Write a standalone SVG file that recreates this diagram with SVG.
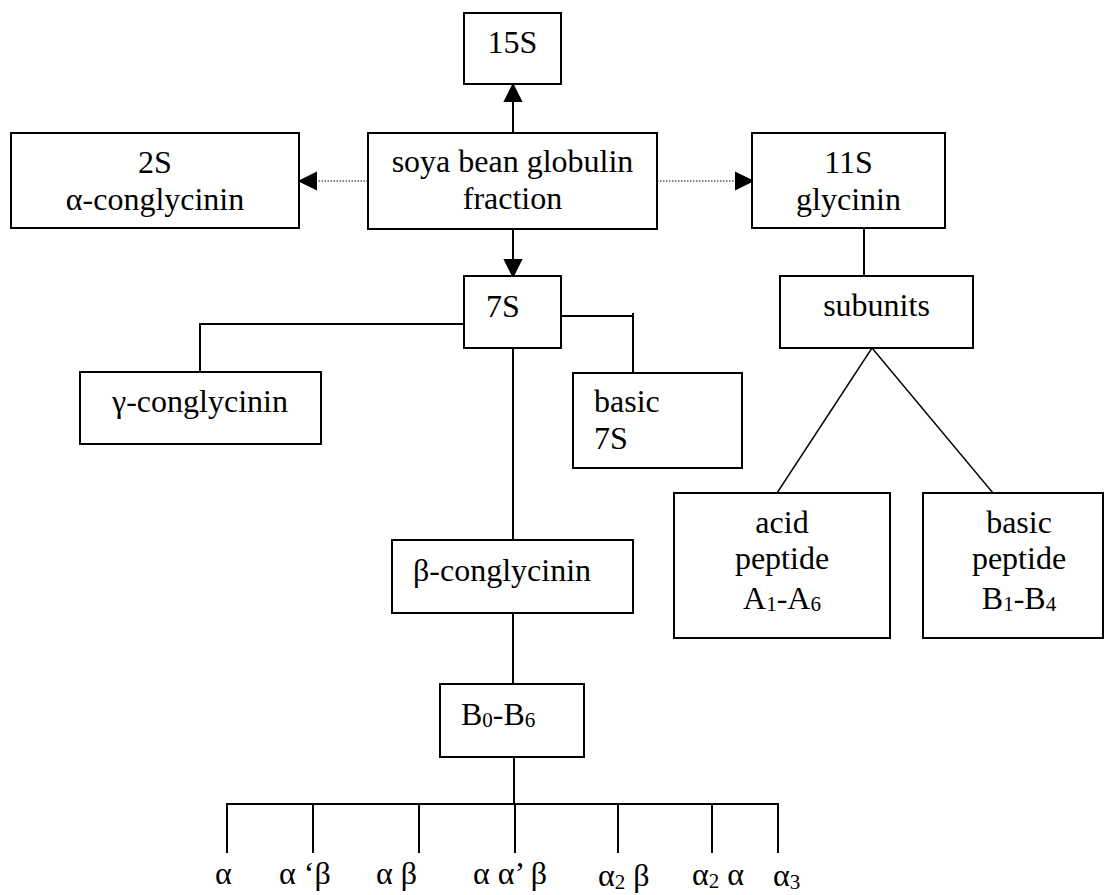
<svg xmlns="http://www.w3.org/2000/svg" width="1104" height="895" viewBox="0 0 1104 895">
<defs>
<path id="ah" d="M0,0 L-16,-8 L-16,8 Z" fill="#000"/>
</defs>
<rect width="1104" height="895" fill="#fff"/>
<g id="connectors" stroke="#000" stroke-width="2" fill="none">
<line x1="513" y1="133" x2="513" y2="99"/>
<use href="#ah" transform="translate(513,85) rotate(-90)"/>
<line x1="513" y1="229" x2="513" y2="262"/>
<use href="#ah" transform="translate(513,276) rotate(90)"/>
<line x1="368" y1="181" x2="314" y2="181" stroke-width="1.2" stroke-dasharray="1.5 1.5"/>
<use href="#ah" transform="translate(300,181) rotate(180)"/>
<line x1="657" y1="181" x2="738" y2="181" stroke-width="1.2" stroke-dasharray="1.5 1.5"/>
<use href="#ah" transform="translate(752,181)"/>
<line x1="864" y1="228" x2="864" y2="276"/>
<line x1="872" y1="348" x2="777" y2="493" stroke-width="1.4"/>
<line x1="872" y1="348" x2="993" y2="493" stroke-width="1.4"/>
<polyline points="464,324 200,324 200,372"/>
<polyline points="561,316 633,316 633,373"/>
<line x1="633" y1="313" x2="633" y2="316"/>
<line x1="513" y1="348" x2="513" y2="540"/>
<line x1="513" y1="613" x2="513" y2="684"/>
<line x1="514" y1="757" x2="514" y2="804"/>
<line x1="226" y1="804" x2="779" y2="804"/>
<line x1="227" y1="804" x2="227" y2="853"/>
<line x1="313" y1="804" x2="313" y2="853"/>
<line x1="419" y1="804" x2="419" y2="853"/>
<line x1="515" y1="804" x2="515" y2="853"/>
<line x1="618" y1="804" x2="618" y2="853"/>
<line x1="712" y1="804" x2="712" y2="853"/>
<line x1="778" y1="804" x2="778" y2="853"/>
</g>
<g id="nodes" font-family="Liberation Serif" font-size="32" fill="#000">
<g id="n15S"><rect x="464" y="13" width="97" height="71" fill="#fff" stroke="#000" stroke-width="2"/><text text-anchor="middle" x="512.5" y="53">15S</text></g>
<g id="soya"><rect x="368" y="133" width="289" height="96" fill="#fff" stroke="#000" stroke-width="2"/><text text-anchor="middle" x="512.5" y="172">soya bean globulin</text><text text-anchor="middle" x="512.5" y="209">fraction</text></g>
<g id="n2S"><rect x="11" y="133" width="288" height="95" fill="#fff" stroke="#000" stroke-width="2"/><text text-anchor="middle" x="155" y="173">2S</text><text text-anchor="middle" x="155" y="210">α-conglycinin</text></g>
<g id="n11S"><rect x="752" y="133" width="193" height="95" fill="#fff" stroke="#000" stroke-width="2"/><text text-anchor="middle" x="848.5" y="173">11S</text><text text-anchor="middle" x="848.5" y="210">glycinin</text></g>
<g id="n7S"><rect x="464" y="276" width="97" height="72" fill="#fff" stroke="#000" stroke-width="2"/><text x="486" y="317">7S</text></g>
<g id="subunits"><rect x="780" y="276" width="193" height="72" fill="#fff" stroke="#000" stroke-width="2"/><text text-anchor="middle" x="876.5" y="316">subunits</text></g>
<g id="gamma"><rect x="80" y="372" width="241" height="72" fill="#fff" stroke="#000" stroke-width="2"/><text text-anchor="middle" x="200" y="412">γ-conglycinin</text></g>
<g id="basic7S"><rect x="573" y="373" width="169" height="95" fill="#fff" stroke="#000" stroke-width="2"/><text x="594" y="412">basic</text><text x="594" y="449">7S</text></g>
<g id="acid"><rect x="674" y="493" width="216" height="145" fill="#fff" stroke="#000" stroke-width="2"/><text text-anchor="middle" x="782" y="533">acid</text><text text-anchor="middle" x="782" y="569">peptide</text><text text-anchor="middle" x="782" y="609">A<tspan font-size="21" dy="2">1</tspan><tspan dy="-2">-A</tspan><tspan font-size="21" dy="2">6</tspan></text></g>
<g id="basicpep"><rect x="923" y="493" width="180" height="145" fill="#fff" stroke="#000" stroke-width="2"/><text text-anchor="middle" x="1019" y="533">basic</text><text text-anchor="middle" x="1019" y="569">peptide</text><text text-anchor="middle" x="1019" y="609">B<tspan font-size="21" dy="2">1</tspan><tspan dy="-2">-B</tspan><tspan font-size="21" dy="2">4</tspan></text></g>
<g id="beta"><rect x="392" y="540" width="241" height="73" fill="#fff" stroke="#000" stroke-width="2"/><text x="413" y="581">β-conglycinin</text></g>
<g id="B0B6"><rect x="440" y="684" width="144" height="73" fill="#fff" stroke="#000" stroke-width="2"/><text x="461" y="725">B<tspan font-size="21" dy="2">0</tspan><tspan dy="-2">-B</tspan><tspan font-size="21" dy="2">6</tspan></text></g>
<g id="labels">
<text x="215" y="884">α</text>
<text x="279" y="884">α ‘β</text>
<text x="376" y="884">α β</text>
<text x="473" y="884">α α’ β</text>
<text x="598" y="886">α<tspan font-size="21" dy="3">2</tspan><tspan dy="-3"> β</tspan></text>
<text x="692" y="885">α<tspan font-size="21" dy="3">2</tspan><tspan dy="-3"> α</tspan></text>
<text x="773" y="886">α<tspan font-size="21" dy="3">3</tspan></text>
</g>
</g>
</svg>
